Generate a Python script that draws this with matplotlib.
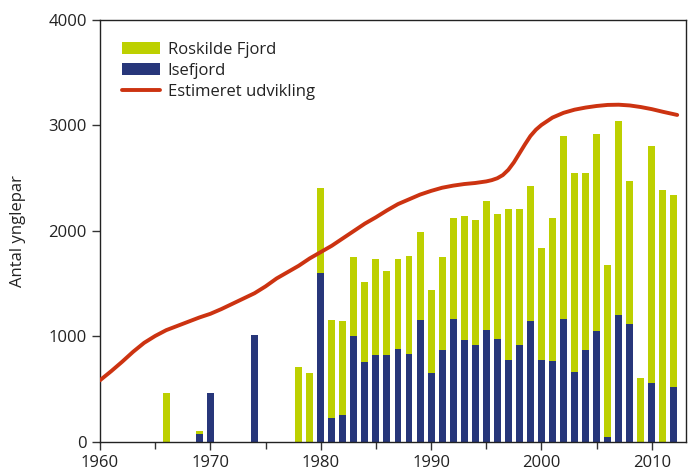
import matplotlib.pyplot as plt
from matplotlib.ticker import MultipleLocator

plt.rcParams["font.family"] = ["Open Sans", "DejaVu Sans"]

# Breeding pairs per year (bars)
years = [1966, 1969, 1970, 1974, 1978, 1979, 1980, 1981, 1982, 1983, 1984,
         1985, 1986, 1987, 1988, 1989, 1990, 1991, 1992, 1993, 1994, 1995,
         1996, 1997, 1998, 1999, 2000, 2001, 2002, 2003, 2004, 2005, 2006,
         2007, 2008, 2009, 2010, 2011, 2012]
isefjord = [0, 80, 460, 1010, 0, 0, 1600, 230, 255, 1005, 760,
            825, 825, 880, 835, 1155, 655, 875, 1165, 965, 920, 1060,
            975, 780, 920, 1150, 780, 770, 1165, 665, 875, 1055, 50,
            1205, 1120, 0, 560, 0, 525]
totals = [460, 100, 460, 1010, 715, 650, 2410, 1155, 1150, 1755, 1520,
          1735, 1620, 1735, 1765, 1990, 1440, 1755, 2125, 2140, 2105, 2285,
          2160, 2210, 2210, 2430, 1840, 2125, 2900, 2550, 2550, 2920, 1680,
          3045, 2475, 610, 2805, 2390, 2340]
roskilde = [t - i for t, i in zip(totals, isefjord)]

# Estimated trend line
trend_years = [1960, 1961, 1962, 1963, 1964, 1965, 1966, 1967, 1968, 1969,
               1970, 1971, 1972, 1973, 1974, 1975, 1976, 1977, 1978, 1979,
               1980, 1981, 1982, 1983, 1984, 1985, 1986, 1987, 1988, 1989,
               1990, 1991, 1992, 1993, 1994, 1995, 1995.5, 1996, 1996.5,
               1997, 1997.5, 1998, 1998.5, 1999, 1999.5,
               2000, 2001, 2002, 2003, 2004, 2005, 2006, 2007, 2008, 2009,
               2010, 2011, 2012.3]
trend = [585, 670, 760, 855, 940, 1005, 1060, 1100, 1140, 1180,
         1215, 1260, 1310, 1360, 1410, 1475, 1550, 1610, 1670, 1740,
         1800, 1860, 1930, 2000, 2070, 2130, 2195, 2255, 2300, 2345,
         2380, 2410, 2430, 2445, 2455, 2470, 2482, 2500, 2530,
         2580, 2650, 2735, 2820, 2900, 2960,
         3005, 3075, 3120, 3150, 3170, 3185, 3195, 3197, 3190, 3175,
         3155, 3130, 3100]

GREEN = "#bdd000"
BLUE = "#27367a"
RED = "#cc3311"


def main():
    fig = plt.figure(figsize=(6.94, 4.75), dpi=100)
    ax = fig.add_axes([0.1441, 0.0695, 0.8444, 0.8884])

    ax.bar(years, isefjord, width=0.63, color=BLUE, label="Isefjord", zorder=2)
    ax.bar(years, roskilde, width=0.63, bottom=isefjord, color=GREEN,
           label="Roskilde Fjord", zorder=2)
    ax.plot(trend_years, trend, color=RED, lw=2.8, label="Estimeret udvikling",
            zorder=3, solid_capstyle="round", solid_joinstyle="round")

    ax.set_xlim(1960, 2013.1)
    ax.set_ylim(0, 4000)
    ax.xaxis.set_major_locator(MultipleLocator(10))
    ax.xaxis.set_minor_locator(MultipleLocator(5))
    ax.yaxis.set_major_locator(MultipleLocator(1000))
    ax.tick_params(axis="both", which="major", labelsize=12, length=6,
                   width=1, color="#333333", labelcolor="#222222")
    ax.tick_params(axis="x", which="minor", length=5, width=1, color="#333333")
    for s in ax.spines.values():
        s.set_color("#222222")
        s.set_linewidth(1)

    ax.set_ylabel("Antal ynglepar", fontsize=12, color="#222222", labelpad=16)

    handles, labels = ax.get_legend_handles_labels()
    order = [labels.index("Roskilde Fjord"), labels.index("Isefjord"),
             labels.index("Estimeret udvikling")]
    ax.legend([handles[i] for i in order], [labels[i] for i in order],
              loc="upper left", frameon=False, fontsize=12,
              handlelength=2.3, handleheight=0.7, labelspacing=0.3,
              handletextpad=0.45, borderaxespad=0.9, labelcolor="#222222")

    fig.savefig("out.png", dpi=100)
    plt.close(fig)


if __name__ == "__main__":
    main()
